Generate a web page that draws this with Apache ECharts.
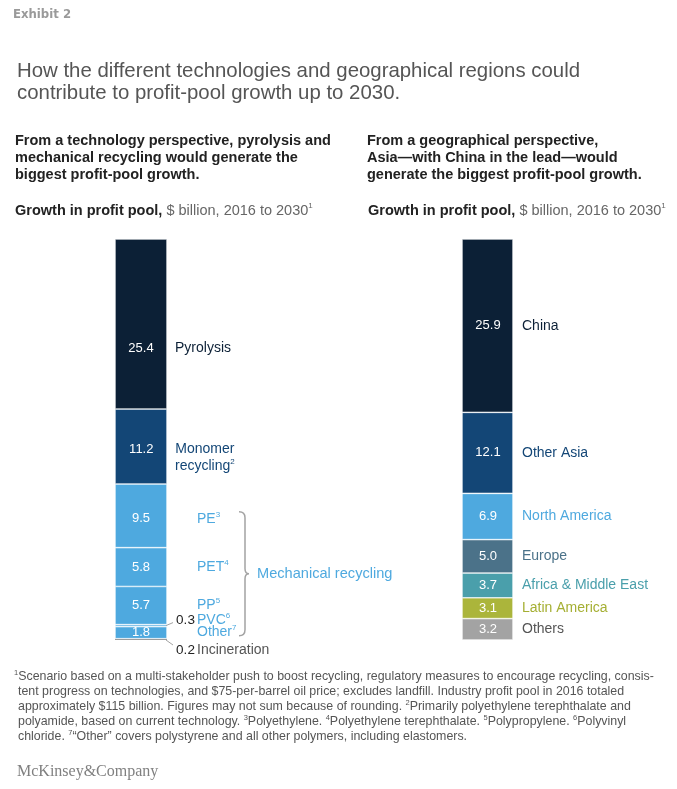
<!DOCTYPE html>
<html>
<head>
<meta charset="utf-8">
<script src="https://cdn.jsdelivr.net/npm/echarts@6/dist/echarts.min.js"></script>
<style>
  html, body { margin: 0; padding: 0; background: #fff; }
  #chart { width: 677px; height: 789px; }
</style>
</head>
<body>
<div id="chart"></div>
<script>
// stacks are listed bottom to top
const techNames = ['Incineration', 'Other', 'PVC', 'PP', 'PET', 'PE', 'Monomer recycling', 'Pyrolysis']
const techNotes = ['', '7', '6', '5', '4', '3', '2', '']
const techValues = [0.2, 1.8, 0.3, 5.7, 5.8, 9.5, 11.2, 25.4]

const regionNames = ['Others', 'Latin America', 'Africa & Middle East', 'Europe', 'North America', 'Other Asia', 'China']
const regionValues = [3.2, 3.1, 3.7, 5.0, 6.9, 12.1, 25.9]

const footnotes = [
  'Scenario based on a multi-stakeholder push to boost recycling, regulatory measures to encourage recycling, consis-',
  'tent progress on technologies, and $75-per-barrel oil price; excludes landfill. Industry profit pool in 2016 totaled',
  'approximately $115 billion. Figures may not sum because of rounding. {s|2}Primarily polyethylene terephthalate and',
  'polyamide, based on current technology. {s|3}Polyethylene. {s|4}Polyethylene terephthalate. {s|5}Polypropylene. {s|6}Polyvinyl',
  'chloride. {s|7}\u201cOther\u201d covers polystyrene and all other polymers, including elastomers.'
]

const navy = '#0c2036'
const blue = '#134676'
const sky = '#4ea9df'
const techColors = ['#9d9d9d', sky, sky, sky, sky, sky, blue, navy]
const techText = ['#555', sky, sky, sky, sky, sky, blue, navy]
const regionColors = ['#a3a3a3', '#abb53b', '#4a9fab', '#4b7289', sky, blue, navy]
const regionText = ['#555', '#a5af33', '#4a9fab', '#4b7289', sky, blue, navy]

const font = 'Liberation Sans, Arial, Helvetica, sans-serif'
const BAR_W = 52
const fmt = v => v.toFixed(1)

function rich(color, pad) {
  return {
    v: { width: BAR_W, align: 'center', color: '#fff', fontSize: 13, lineHeight: 17, fontFamily: font },
    d: { width: 23, color: '#222', fontSize: 13.5, lineHeight: 17, padding: [0, 0, 0, 7], fontFamily: font },
    n: { color: color, fontSize: 14, lineHeight: 17, padding: [0, 0, 0, pad], fontFamily: font },
    s: { color: color, fontSize: 8, lineHeight: 10, verticalAlign: 'top', fontFamily: font }
  }
}

let series = []

techNames.forEach((name, i) => {
  const v = techValues[i]
  const sup = techNotes[i] ? '{s|' + techNotes[i] + '}' : ''
  let text, pad, offset = [0, 0]
  if (v < 1) {
    text = '{v| }{d|' + fmt(v) + '}{n|' + name + '}' + sup
    pad = 0
    offset = name === 'Incineration' ? [0, 11] : [0, -5]
  } else if (name === 'Monomer recycling') {
    text = '{v|' + fmt(v) + '}{n|Monomer}\n{v| }{n|recycling}' + sup
    pad = 8
    offset = [0, 11]
  } else if (name === 'Pyrolysis') {
    text = '{v|' + fmt(v) + '}{n|' + name + '}'
    pad = 8
    offset = [0, 24]
  } else {
    text = '{v|' + fmt(v) + '}{n|' + name + '}' + sup
    pad = 30
    if (name === 'PE') offset = [0, 3]
  }
  series.push({
    type: 'bar',
    name: name,
    stack: 'tech',
    xAxisIndex: 0,
    yAxisIndex: 0,
    barWidth: '100%',
    data: [v],
    silent: true,
    itemStyle: {
      color: techColors[i],
      borderColor: '#fff',
      borderWidth: name === 'Incineration' ? 0 : 0.6
    },
    label: {
      show: true,
      position: 'insideLeft',
      distance: 0,
      offset: offset,
      formatter: () => text,
      rich: rich(techText[i], pad)
    }
  })
})

regionNames.forEach((name, i) => {
  series.push({
    type: 'bar',
    name: name,
    stack: 'region',
    xAxisIndex: 1,
    yAxisIndex: 1,
    barWidth: '100%',
    data: [regionValues[i]],
    silent: true,
    itemStyle: { color: regionColors[i], borderColor: '#fff', borderWidth: 0.6 },
    label: {
      show: true,
      position: 'insideLeft',
      distance: 0,
      formatter: () => '{v|' + fmt(regionValues[i]) + '}{n|' + name + '}',
      rich: rich(regionText[i], 8)
    }
  })
})

// leader lines, brace and the "Mechanical recycling" tag, placed from the stacked values
series.push({
  type: 'custom',
  xAxisIndex: 0,
  yAxisIndex: 0,
  data: [0],
  silent: true,
  z: 5,
  renderItem: (params, api) => {
    let acc = 0
    const base = techValues.map(v => { const b = acc; acc += v; return b })
    const yMid = i => api.coord([0, base[i] + techValues[i] / 2])[1]
    const right = api.coord([0, 0])[0] + api.size([1, 0])[0] / 2
    const y0 = api.coord([0, 0])[1]
    const top = yMid(5) - 4
    const bot = yMid(1) + 3
    const mid = (top + bot) / 2
    const bx = right + 78
    const path = 'M' + (bx - 6) + ' ' + top +
      ' Q' + bx + ' ' + top + ' ' + bx + ' ' + (top + 6) +
      ' L' + bx + ' ' + (mid - 5) +
      ' Q' + bx + ' ' + mid + ' ' + (bx + 4) + ' ' + mid +
      ' Q' + bx + ' ' + mid + ' ' + bx + ' ' + (mid + 5) +
      ' L' + bx + ' ' + (bot - 6) +
      ' Q' + bx + ' ' + bot + ' ' + (bx - 6) + ' ' + bot
    return {
      type: 'group',
      children: [
        { type: 'path', shape: { pathData: path }, style: { stroke: '#a3a3a3', fill: null, lineWidth: 1.5 } },
        { type: 'line', shape: { x1: right - 1, y1: yMid(2), x2: right + 6, y2: yMid(2) - 3 }, style: { stroke: '#a3a3a3', lineWidth: 1 } },
        { type: 'line', shape: { x1: right - 1, y1: y0, x2: right + 6, y2: y0 + 5 }, style: { stroke: '#a3a3a3', lineWidth: 1 } },
        {
          type: 'text',
          x: bx + 12,
          y: mid,
          style: { text: 'Mechanical recycling', fill: sky, font: '14.6px ' + font, verticalAlign: 'middle' }
        }
      ]
    }
  }
})

const growthRich = {
  b: { fontFamily: font, fontSize: 14.5, fontWeight: 'bold', color: '#222', lineHeight: 17 },
  r: { fontFamily: font, fontSize: 14.5, fontWeight: 'normal', color: '#666', lineHeight: 17 },
  s: { fontFamily: font, fontSize: 8, fontWeight: 'normal', color: '#666', lineHeight: 10, verticalAlign: 'top' }
}
const growthText = '{b|Growth in profit pool,}{r| $ billion, 2016 to 2030}{s|1}'

const noteRich = {
  s: { fontFamily: font, fontSize: 7.5, color: '#555', lineHeight: 9, verticalAlign: 'top' }
}
const noteStyle = { fontFamily: font, fontSize: 12.4, color: '#555', lineHeight: 15, fontWeight: 'normal', rich: noteRich }
const subStyle = { fontFamily: font, fontSize: 14.5, fontWeight: 'bold', color: '#222', lineHeight: 17 }

const chart = echarts.init(document.getElementById('chart'), null, { renderer: 'canvas' })
chart.setOption({
  backgroundColor: '#fff',
  animation: false,
  textStyle: { fontFamily: font },
  title: [
    { text: 'Exhibit 2', left: 13, top: 8, padding: 0,
      textStyle: { fontFamily: 'Liberation Sans Narrow, DejaVu Sans Condensed, sans-serif', fontWeight: 'bold', fontSize: 13, color: '#9a9a9a' } },
    { text: 'How the different technologies and geographical regions could\ncontribute to profit-pool growth up to 2030.',
      left: 17, top: 60, padding: 0,
      textStyle: { fontFamily: font, fontWeight: 'normal', fontSize: 20.4, lineHeight: 22, color: '#555' } },
    { text: 'From a technology perspective, pyrolysis and\nmechanical recycling would generate the\nbiggest profit-pool growth.',
      left: 15, top: 132, padding: 0, textStyle: subStyle },
    { text: 'From a geographical perspective,\nAsia\u2014with China in the lead\u2014would\ngenerate the biggest profit-pool growth.',
      left: 367, top: 132, padding: 0, textStyle: subStyle },
    { text: growthText, left: 15, top: 202, padding: 0, textStyle: { rich: growthRich } },
    { text: growthText, left: 368, top: 202, padding: 0, textStyle: { rich: growthRich } },
    { text: '{s|1}' + footnotes[0], left: 14, top: 669, padding: 0, textStyle: noteStyle },
    { text: footnotes.slice(1).join('\n'), left: 18, top: 684, padding: 0, textStyle: noteStyle },
    { text: 'McKinsey&Company', left: 17, top: 764, padding: 0,
      textStyle: { fontFamily: 'Liberation Serif, DejaVu Serif, serif', fontWeight: 'normal', fontSize: 16, color: '#808080' } }
  ],
  grid: [
    { left: 115, top: 239, width: 52, height: 401 },
    { left: 462, top: 239, width: 51, height: 401 }
  ],
  xAxis: [
    { type: 'category', gridIndex: 0, data: ['Technology'], show: false },
    { type: 'category', gridIndex: 1, data: ['Region'], show: false }
  ],
  yAxis: [
    { type: 'value', gridIndex: 0, min: 0, max: 59.9, show: false },
    { type: 'value', gridIndex: 1, min: 0, max: 59.9, show: false }
  ],
  series: series
})
</script>
</body>
</html>
